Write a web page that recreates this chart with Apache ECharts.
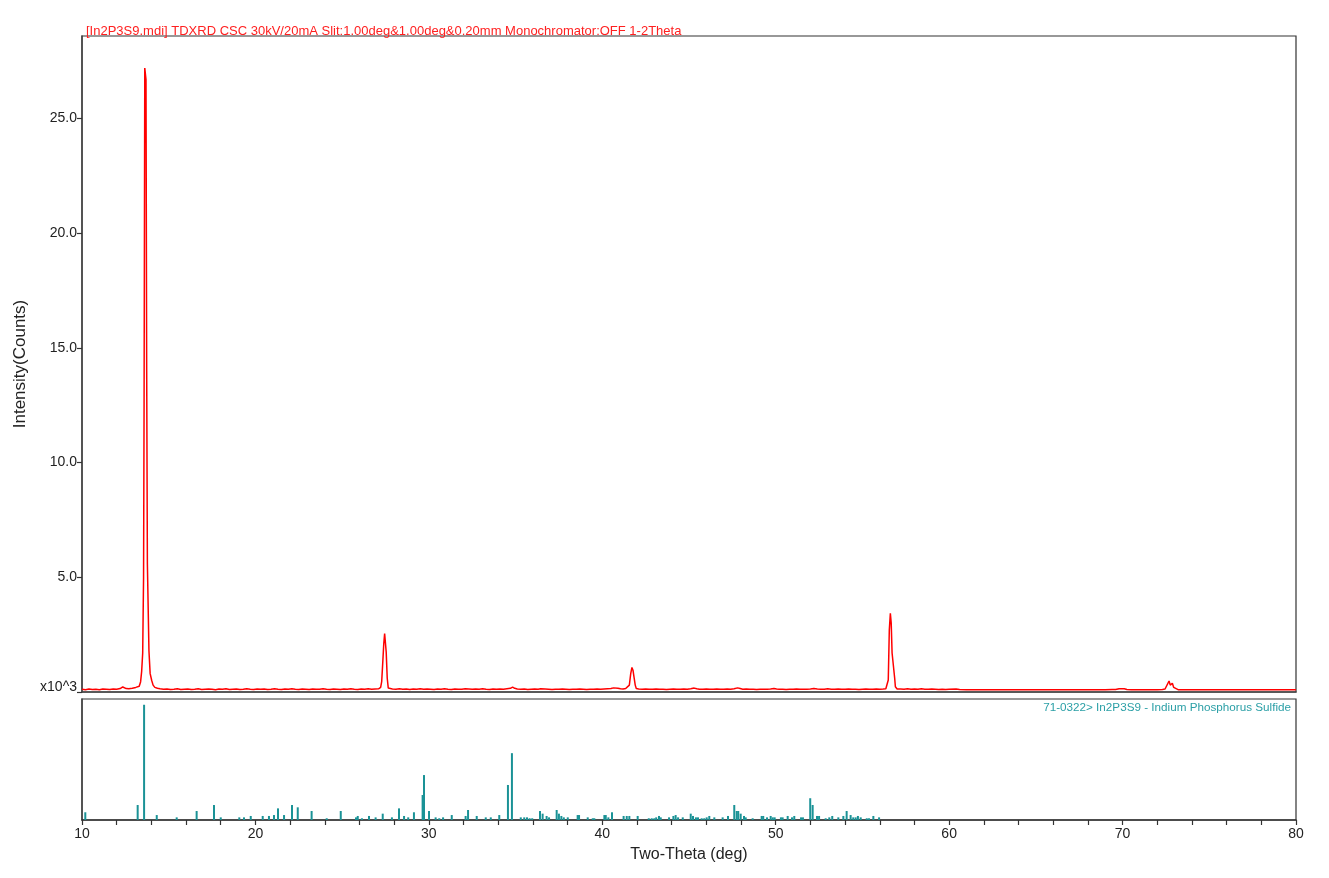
<!DOCTYPE html>
<html>
<head>
<meta charset="utf-8">
<script src="https://cdn.jsdelivr.net/npm/echarts@6/dist/echarts.min.js"></script>
<style>html,body{margin:0;padding:0;background:#fff}#c{width:1329px;height:878px}</style>
</head>
<body>
<div id="c"></div>
<script>
// Measured scan: two-theta (deg) and intensity (x10^3 counts)
const xrdTheta = [
10.0,10.2,10.4,10.6,10.8,11.0,11.2,11.4,11.6,11.8,12.0,12.2,12.35,12.45,12.55,12.7,12.9,13.1,13.2,
13.30,13.38,13.44,13.50,13.55,13.58,13.62,13.66,13.69,13.73,13.77,13.82,13.86,13.93,14.02,14.10,
14.2,14.35,14.5,14.7,14.9,15.1,15.3,15.5,15.7,15.9,16.1,16.3,16.5,16.7,16.9,17.1,17.3,17.5,17.7,17.9,
18.1,18.3,18.5,18.7,18.9,19.1,19.3,19.5,19.7,19.9,20.1,20.3,20.5,20.7,20.9,21.1,21.3,21.5,21.7,21.9,
22.1,22.3,22.5,22.7,22.9,23.1,23.3,23.5,23.7,23.9,24.1,24.3,24.5,24.7,24.9,25.1,25.3,25.5,25.7,25.9,
26.1,26.3,26.5,26.7,26.9,27.1,
27.22,27.28,27.34,27.40,27.45,27.50,27.54,27.60,27.66,27.75,
27.9,28.1,28.3,28.5,28.7,28.9,29.1,29.3,29.5,29.7,29.9,30.1,30.3,30.5,30.7,30.9,31.1,31.3,31.5,31.7,
31.9,32.1,32.3,32.5,32.7,32.9,33.1,33.3,33.5,33.7,33.9,34.1,34.3,34.5,34.7,34.83,34.95,35.1,35.3,35.5,
35.7,35.9,36.1,36.3,36.45,36.56,36.7,36.9,37.1,37.3,37.5,37.7,37.9,38.1,38.3,38.5,38.7,38.9,39.1,39.3,
39.5,39.7,39.9,40.1,40.3,40.5,40.65,40.75,40.9,41.05,41.2,41.35,41.45,
41.56,41.64,41.71,41.77,41.83,41.90,41.96,
42.1,42.3,42.5,42.7,42.9,43.1,43.3,43.5,43.7,43.9,44.1,44.3,44.5,44.7,44.9,45.1,45.3,45.45,45.6,45.8,
46.0,46.2,46.4,46.6,46.8,47.0,47.2,47.4,47.6,47.8,47.95,48.1,48.3,48.5,48.7,48.9,49.1,49.3,49.5,49.7,
49.9,50.05,50.2,50.4,50.6,50.8,51.0,51.2,51.4,51.6,51.8,52.0,52.2,52.4,52.6,52.8,53.0,53.2,53.4,53.6,
53.8,54.0,54.2,54.4,54.6,54.8,55.0,55.2,55.4,55.6,55.8,56.0,56.2,56.35,
56.42,56.49,56.55,56.61,56.66,56.71,56.80,56.86,56.90,57.0,
57.2,57.4,57.6,57.8,58.0,58.2,58.4,58.6,58.8,59.0,59.2,59.4,59.6,59.8,60.0,60.4,60.6,61.0,62.0,63.0,
64.0,65.0,66.0,67.0,68.0,69.0,69.4,69.5,69.6,69.8,69.9,70.1,70.25,70.5,71.0,71.5,72.0,72.3,72.45,
72.55,72.68,72.75,72.80,72.87,72.95,73.05,73.2,74.0,75.0,76.0,77.0,78.0,79.0,80.0
];
const xrdCounts = [
.12,.10,.13,.11,.12,.10,.13,.12,.11,.13,.12,.15,.22,.20,.15,.14,.16,.20,.22,
.25,.45,.9,1.7,5.0,12.6,27.2,27.2,26.7,14.0,5.6,5.6,1.8,.8,.5,.3,
.20,.16,.14,.12,.13,.11,.12,.14,.11,.12,.13,.11,.12,.14,.11,.12,.13,.12,.10,.13,
.12,.14,.11,.12,.13,.11,.12,.14,.12,.11,.13,.12,.13,.11,.12,.14,.12,.11,.13,.12,
.14,.12,.11,.13,.12,.11,.13,.12,.12,.14,.12,.11,.13,.12,.11,.13,.12,.14,.12,.11,
.13,.12,.14,.12,.13,.14,
.20,.45,1.26,2.1,2.55,2.5,1.75,.6,.17,.12,
.13,.12,.14,.12,.13,.11,.13,.12,.14,.12,.13,.12,.11,.13,.12,.14,.12,.11,.13,.12,
.12,.14,.13,.12,.13,.12,.14,.12,.11,.13,.12,.13,.12,.14,.16,.21,.16,.13,.12,.13,
.11,.12,.13,.12,.14,.16,.13,.12,.11,.12,.12,.13,.12,.11,.12,.12,.13,.12,.11,.12,
.12,.13,.12,.13,.14,.15,.18,.20,.16,.14,.13,.15,.16,
.3,.8,1.07,.95,.65,.3,.15,
.13,.12,.13,.12,.12,.13,.12,.12,.11,.12,.13,.12,.12,.13,.12,.14,.17,.14,.12,.12,
.13,.12,.12,.13,.12,.12,.13,.12,.14,.18,.15,.12,.13,.12,.12,.11,.12,.12,.12,.13,
.15,.13,.12,.12,.11,.12,.12,.13,.12,.12,.12,.13,.15,.13,.12,.12,.14,.12,.12,.13,
.12,.12,.13,.12,.12,.11,.12,.13,.12,.12,.13,.12,.13,.14,
.18,.52,2.7,3.43,3.0,1.7,1.68,.6,.23,.13,
.13,.12,.14,.12,.13,.12,.14,.12,.12,.13,.12,.11,.12,.11,.12,.13,.11,.10,.10,.10,
.10,.10,.10,.10,.10,.10,.11,.14,.11,.14,.11,.14,.11,.10,.10,.10,.10,.11,.13,
.19,.48,.30,.26,.38,.20,.12,.10,.10,.10,.10,.10,.10,.10,.10
];
// Reference pattern 71-0322 In2P3S9: two-theta (deg) and relative intensity (%)
const stickTheta = [
10.19,13.21,13.58,14.31,15.46,16.61,17.61,18.00,19.07,19.34,19.73,20.42,20.78,21.07,21.30,21.65,22.11,22.44,
23.24,24.11,24.92,25.80,25.90,26.14,26.55,26.93,27.34,27.87,28.28,28.57,28.81,29.14,29.64,29.72,30.01,30.39,
30.60,30.82,31.32,32.12,32.26,32.76,33.28,33.57,34.06,34.56,34.79,35.30,35.50,35.66,35.81,35.96,36.41,36.56,
36.79,36.93,37.37,37.50,37.64,37.78,38.01,38.58,38.66,39.16,39.45,39.54,40.12,40.20,40.35,40.56,41.23,41.41,
41.56,42.04,42.68,42.85,43.00,43.11,43.27,43.37,43.85,44.10,44.23,44.37,44.64,45.10,45.23,45.40,45.52,45.73,
45.88,46.02,46.17,46.46,46.94,47.25,47.61,47.75,47.84,47.98,48.17,48.27,48.67,49.19,49.28,49.50,49.71,49.83,
49.94,50.30,50.40,50.69,50.94,51.07,51.46,51.57,51.99,52.13,52.38,52.50,52.88,53.09,53.26,53.61,53.90,54.09,
54.32,54.47,54.61,54.74,54.90,55.25,55.38,55.63,55.96
];
const stickIntensity = [
6.7,13,100,4.3,2.3,7.8,13,2.3,2.3,2.3,3.5,3.5,3.5,4.3,10.1,4.3,13,11,
7.8,1.5,7.8,2.3,3.5,1.5,3.5,2.3,5.5,2.3,10.1,3.5,2.3,6.7,21.7,39,7.8,2.3,
1.5,2.3,4.3,3.5,8.7,3.5,2.3,2.3,4.3,30.4,58,2.3,2.3,2.3,1.5,1.5,7.8,5.5,
3.5,2.3,8.7,5.5,3.5,2.3,2.3,4.3,4.3,2.3,1.5,1.5,4.3,4.3,2.3,6.7,3.5,3.5,
3.5,3.5,1.5,1.5,1.5,2.3,3.5,2.3,2.3,3.5,4.3,2.3,2.3,5.5,3.5,2.3,2.3,1.5,
1.5,2.3,3.5,2.3,2.3,3.5,13,7.8,7.8,5.5,3.5,2.3,1.5,3.5,3.5,2.3,3.5,2.3,
2.3,2.3,2.3,3.5,2.3,3.5,2.3,2.3,18.9,13,3.5,3.5,1.5,2.3,3.5,2.3,3.5,7.8,
4.3,2.3,2.3,3.5,2.3,1.5,1.5,3.5,2.3
];
const xLabelValues = [10,20,30,40,50,60,70,80];
const yTickLabels = ['x10^3','5.0','10.0','15.0','20.0','25.0'];

const titleText = '[In2P3S9.mdi] TDXRD CSC 30kV/20mA Slit:1.00deg&1.00deg&0.20mm Monochromator:OFF 1-2Theta';
const phaseText = '71-0322> In2P3S9 - Indium Phosphorus Sulfide';

const scanData = xrdTheta.map((t, i) => [t, xrdCounts[i]]);
const stickData = stickTheta.map((t, i) => [t, stickIntensity[i]]);

const FONT = 'Liberation Sans, Arial, sans-serif';
const chart = echarts.init(document.getElementById('c'));
chart.setOption({
  animation: false,
  backgroundColor: '#ffffff',
  title: {
    text: titleText, left: 81, top: 20,
    textStyle: { color: '#ff2020', fontSize: 13, fontWeight: 'normal', fontFamily: FONT }
  },
  graphic: [{
    type: 'text', right: 38, top: 702,
    style: { text: phaseText, fill: '#2a9fa6', fontSize: 11.7, fontFamily: FONT }
  }],
  grid: [
    { left: 82, right: 33, top: 36, height: 656, show: true, borderColor: '#333', borderWidth: 1.2, backgroundColor: 'transparent' },
    { left: 82, right: 33, top: 699, height: 121, show: true, borderColor: '#333', borderWidth: 1.2, backgroundColor: 'transparent' }
  ],
  xAxis: [
    { gridIndex: 0, type: 'value', min: 10, max: 80,
      axisLine: { show: true, lineStyle: { color: '#444', width: 1.5 } },
      axisTick: { show: false }, axisLabel: { show: false }, splitLine: { show: false } },
    { gridIndex: 1, type: 'value', min: 10, max: 80, interval: 2,
      name: 'Two-Theta (deg)', nameLocation: 'middle', nameGap: 27,
      nameTextStyle: { color: '#222', fontSize: 16, fontFamily: FONT },
      axisLine: { show: true, lineStyle: { color: '#333', width: 1.5 } },
      axisTick: { show: true, inside: false, length: 5, lineStyle: { color: '#333', width: 1.2 } },
      axisLabel: { color: '#222', fontSize: 14, fontFamily: FONT, margin: 7,
        formatter: v => xLabelValues.indexOf(v) >= 0 ? String(v) : '' },
      splitLine: { show: false } }
  ],
  yAxis: [
    { gridIndex: 0, type: 'value', min: 0, max: 28.6, interval: 5,
      name: 'Intensity(Counts)', nameLocation: 'middle', nameGap: 50,
      nameTextStyle: { color: '#222', fontSize: 17, fontFamily: FONT },
      axisLine: { show: true, lineStyle: { color: '#444', width: 1.5 } },
      axisTick: { show: true, inside: false, length: 5, lineStyle: { color: '#333', width: 1.2 } },
      axisLabel: { color: '#222', fontSize: 14, fontFamily: FONT, margin: 5, showMaxLabel: false,
        formatter: v => {
          const i = Math.round(v / 5);
          if (Math.abs(v - i * 5) > 1e-6 || !yTickLabels[i]) return '';
          return i === 0 ? '{z|' + yTickLabels[i] + '}' : yTickLabels[i];
        },
        rich: { z: { fontSize: 14, fontFamily: FONT, color: '#222', padding: [0, 0, 10, 0] } } },
      splitLine: { show: false } },
    { gridIndex: 1, type: 'value', min: 0, max: 105,
      axisLine: { show: true, lineStyle: { color: '#444', width: 1.5 } },
      axisTick: { show: false }, axisLabel: { show: false }, splitLine: { show: false } }
  ],
  series: [
    { type: 'line', xAxisIndex: 0, yAxisIndex: 0, data: scanData, showSymbol: false,
      lineStyle: { color: '#ff0000', width: 1.5 }, itemStyle: { color: '#ff0000' } },
    { type: 'bar', xAxisIndex: 1, yAxisIndex: 1, data: stickData, barWidth: 2,
      itemStyle: { color: '#1a9296' } }
  ]
});
</script>
</body>
</html>
